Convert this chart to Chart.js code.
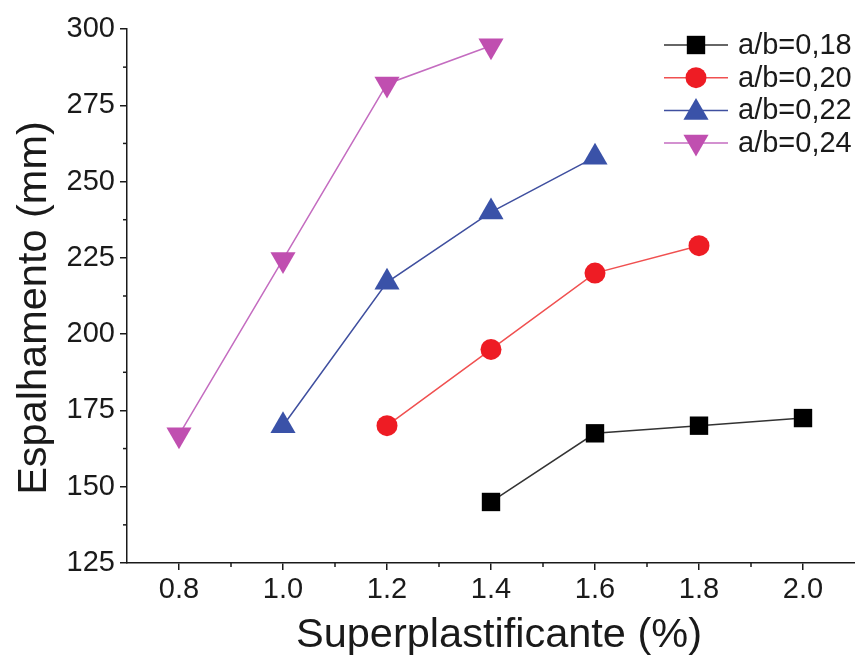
<!DOCTYPE html>
<html>
<head>
<meta charset="utf-8">
<script src="https://cdn.jsdelivr.net/npm/chart.js@4/dist/chart.umd.min.js"></script>
<style>
  html, body { margin: 0; padding: 0; background: #fff; overflow: hidden; }
  canvas { display: block; }
</style>
</head>
<body>
<canvas id="chart" width="855" height="655"></canvas>
<script>
// values
const seriesNames = ["a/b=0,18", "a/b=0,20", "a/b=0,22", "a/b=0,24"];
const x018 = [1.4, 1.6, 1.8, 2.0];
const y018 = [145, 167.5, 170, 172.5];
const x020 = [1.2, 1.4, 1.6, 1.8];
const y020 = [170, 195, 220, 229];
const x022 = [1.0, 1.2, 1.4, 1.6];
const y022 = [170, 217, 240, 258];
const x024 = [0.8, 1.0, 1.2, 1.4];
const y024 = [167, 224.5, 282, 294.5];
const xTicks = [0.8, 1.0, 1.2, 1.4, 1.6, 1.8, 2.0];
const yTicks = [125, 150, 175, 200, 225, 250, 275, 300];
const xTitle = "Superplastificante (%)";
const yTitle = "Espalhamento (mm)";

const FONT = "'Liberation Sans', Arial, sans-serif";
const INK = "#1a1a1a";

function pts(xs, ys) { return xs.map((x, i) => ({ x: x, y: ys[i] })); }

const styles = [
  { line: "#333333", fill: "#000000", point: "rect", r: 13, rot: 0 },
  { line: "#f05050", fill: "#ee1c24", point: "circle", r: 10.5, rot: 0 },
  { line: "#3f4f9f", fill: "#3a52a8", point: "triangle", r: 14.5, rot: 0 },
  { line: "#c46cc0", fill: "#c04fb0", point: "triangle", r: 14.5, rot: 180 }
];
const allData = [pts(x018, y018), pts(x020, y020), pts(x022, y022), pts(x024, y024)];

const datasets = allData.map((d, i) => ({
  label: seriesNames[i],
  data: d,
  borderColor: styles[i].line,
  backgroundColor: styles[i].fill,
  borderWidth: 1.5,
  pointStyle: styles[i].point,
  pointRadius: styles[i].r,
  pointRotation: styles[i].rot,
  pointBackgroundColor: styles[i].fill,
  pointBorderColor: styles[i].fill,
  pointBorderWidth: 0,
  showLine: true,
  tension: 0
}));

// minor ticks, axis titles, legend with line through marker
const extras = {
  id: "extras",
  afterDraw(chart) {
    const ctx = chart.ctx;
    const xs = chart.scales.x, ys = chart.scales.y;
    const left = chart.chartArea.left, bottom = chart.chartArea.bottom;
    ctx.save();
    ctx.strokeStyle = INK;
    ctx.lineWidth = 1.5;
    for (let v = 0.9; v <= 2.0; v += 0.2) {
      const px = xs.getPixelForValue(v);
      ctx.beginPath(); ctx.moveTo(px, bottom); ctx.lineTo(px, bottom + 4); ctx.stroke();
    }
    for (let v = 137.5; v < 300; v += 25) {
      const py = ys.getPixelForValue(v);
      ctx.beginPath(); ctx.moveTo(left, py); ctx.lineTo(left - 4, py); ctx.stroke();
    }
    // axis titles
    ctx.fillStyle = INK;
    ctx.font = "41.5px " + FONT;
    ctx.textAlign = "center";
    ctx.textBaseline = "middle";
    ctx.fillText(xTitle, 499, 636);
    ctx.save();
    ctx.translate(35, 308);
    ctx.rotate(-Math.PI / 2);
    ctx.fillText(yTitle, 0, 0);
    ctx.restore();
    // legend
    ctx.font = "29px " + FONT;
    ctx.textAlign = "left";
    chart.data.datasets.forEach((ds, i) => {
      const y = 45 + i * 32.7;
      ctx.strokeStyle = ds.borderColor;
      ctx.lineWidth = 1.5;
      ctx.beginPath(); ctx.moveTo(664, y); ctx.lineTo(728, y); ctx.stroke();
      ctx.fillStyle = ds.pointBackgroundColor;
      Chart.helpers.drawPoint(ctx, {
        pointStyle: ds.pointStyle, radius: ds.pointRadius, rotation: ds.pointRotation, borderWidth: 0
      }, 696, y + (ds.pointStyle === "triangle" ? (ds.pointRotation ? -1 : 2) : 0));
      ctx.fillStyle = INK;
      ctx.fillText(ds.label, 738, y + 1);
    });
    ctx.restore();
  }
};

new Chart(document.getElementById("chart"), {
  type: "scatter",
  data: { datasets: datasets },
  options: {
    responsive: false,
    animation: false,
    layout: { autoPadding: false, padding: { top: 29, right: 0, left: 0, bottom: 0 } },
    plugins: { legend: { display: false }, tooltip: { enabled: false } },
    scales: {
      x: {
        type: "linear",
        min: 0.7, max: 2.1,
        afterBuildTicks: s => { s.ticks = xTicks.map(v => ({ value: v })); },
        afterFit: s => { s.height = 92; s.paddingRight = 0; },
        border: { display: true, color: INK, width: 1.5 },
        grid: { drawOnChartArea: false, drawTicks: true, tickLength: 7, color: INK, lineWidth: 1.5 },
        ticks: { color: INK, font: { family: FONT, size: 29 }, padding: 3, maxRotation: 0, autoSkip: false,
                 callback: v => v.toFixed(1) },
        title: { display: false }
      },
      y: {
        type: "linear",
        min: 125, max: 300,
        afterBuildTicks: s => { s.ticks = yTicks.map(v => ({ value: v })); },
        afterFit: s => { s.width = 127; },
        border: { display: true, color: INK, width: 1.5 },
        grid: { drawOnChartArea: false, drawTicks: true, tickLength: 7, color: INK, lineWidth: 1.5 },
        ticks: { color: INK, font: { family: FONT, size: 29 }, padding: 5 },
        title: { display: false }
      }
    }
  },
  plugins: [extras]
});
</script>
</body>
</html>
